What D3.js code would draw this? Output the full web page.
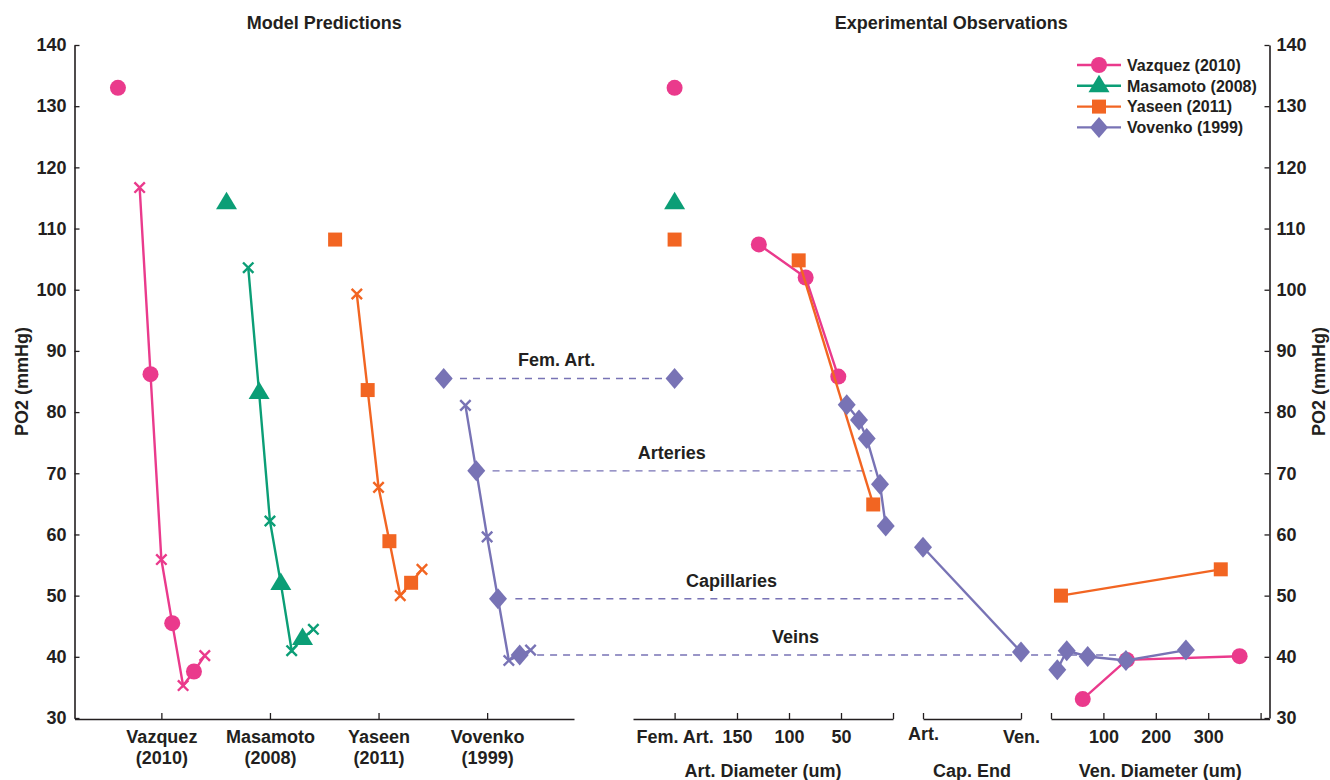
<!DOCTYPE html>
<html>
<head>
<meta charset="utf-8">
<script src="https://cdn.jsdelivr.net/npm/d3@7"></script>
<style>
  body { margin: 0; background: #fff; }
  svg text { font-family: "Liberation Sans", Arial, Helvetica, sans-serif; font-weight: bold; fill: #231f20; }
</style>
</head>
<body>
<svg id="chart" width="1330" height="780"></svg>
<script>
// studies, in drawing order
var studies = ["Vazquez (2010)", "Masamoto (2008)", "Yaseen (2011)", "Vovenko (1999)"]
var studyShort = [["Vazquez", "(2010)"], ["Masamoto", "(2008)"], ["Yaseen", "(2011)"], ["Vovenko", "(1999)"]]
var studyColors = ["#ea3a8c", "#0b9e76", "#f26522", "#7873b5"]
var studyShapes = ["circle", "triangle", "square", "diamond"]

// femoral artery PO2 (used as model inlet and as first observation)
var femArtPO2 = [133, 114.2, 108.2, 85.5]

// model predictions: positions relative to each study's category tick
var modelInletOffset = -0.4
var modelOffsets = [-0.2, -0.1, 0, 0.1, 0.2, 0.3, 0.4]
var modelPO2 = [
    [116.7, 86.2, 55.9, 45.5, 35.3, 37.6, 40.2],
    [103.6, 83.2, 62.2, 52.0, 41.0, 43.0, 44.5],
    [99.3, 83.6, 67.7, 58.9, 50.0, 52.1, 54.3],
    [81.1, 70.4, 59.6, 49.5, 39.4, 40.3, 41.1]
]

// experimental observations
var vazquezArtDiam = [129, 84, 52.6]
var vazquezArtPO2 = [107.4, 102, 85.8]
var yaseenArtDiam = [90.7, 19]
var yaseenArtPO2 = [104.8, 64.9]
var vovenkoArtDiam = [44.5, 32.7, 25.3, 12.5, 7]
var vovenkoArtPO2 = [81.2, 78.7, 75.7, 68.2, 61.4]
var vovenkoCapPos = [0, 1]
var vovenkoCapPO2 = [57.9, 40.8]
var vazquezVenDiam = [60.6, 144.7, 360]
var vazquezVenPO2 = [33.1, 39.5, 40.1]
var yaseenVenDiam = [19, 324]
var yaseenVenPO2 = [50.0, 54.3]
var vovenkoVenDiam = [12, 30, 70, 143, 257.5]
var vovenkoVenPO2 = [37.9, 41.0, 40.05, 39.4, 41.1]

// dashed guides linking the Vovenko model to its observations
var guideLabels = ["Fem. Art.", "Arteries", "Capillaries", "Veins"]
var guidePO2 = [85.5, 70.4, 49.5, 40.3]
var guideStart = [3.75, 4.05, 4.26, 4.46]          // model units
var guideEndAxis = ["art", "art", "cap", "ven"]
var guideEnd = [221, 20, 0.41, 145]
var guideLabelX = [4.64, 5.70, 6.25, 6.84]          // model units

// tick labels
var yTicks = [30, 40, 50, 60, 70, 80, 90, 100, 110, 120, 130, 140]
var artTicks = [210, 150, 100, 50, 0]
var venTicks = [0, 100, 200, 300, 400]

var svg = d3.select("#chart")
var ink = "#231f20"

var y = d3.scaleLinear().domain([30, 140]).range([718, 45])
var xModel = d3.scaleLinear().domain([0.2, 4.8]).range([74.5, 574])
var xArt = d3.scaleLinear().domain([250, 0]).range([633, 893])
var xCap = d3.scaleLinear().domain([0, 1]).range([923, 1021])
var xVen = d3.scaleLinear().domain([0, 417]).range([1051, 1269.5])
var endScales = { art: xArt, cap: xCap, ven: xVen }

var markerPath = function(shape) {
    if (shape === "circle") return d3.symbol(d3.symbolCircle, Math.PI * 64)()
    if (shape === "triangle") return "M0,-11L10.5,6.5L-10.5,6.5Z"
    if (shape === "square") return "M-7,-7H7V7H-7Z"
    if (shape === "diamond") return "M0,-10.5L9,0L0,10.5L-9,0Z"
    return "M-5.2,-5.2L5.2,5.2M-5.2,5.2L5.2,-5.2"
}

var drawMarker = function(g, shape, color, px, py) {
    var p = g.append("path")
        .attr("d", markerPath(shape))
        .attr("transform", "translate(" + px + "," + py + ")")
    if (shape === "x") {
        p.attr("fill", "none").attr("stroke", color).attr("stroke-width", 2.4)
    } else {
        p.attr("fill", color)
    }
}

var line = d3.line()

var styleAxis = function(g) {
    g.selectAll("path.domain").attr("stroke", ink).attr("stroke-width", 1.6)
    g.selectAll(".tick line").attr("stroke", ink).attr("stroke-width", 1.3)
    g.selectAll(".tick text").style("font-size", "18px").attr("fill", ink)
}

// ---- axes ----
svg.append("g").attr("transform", "translate(74.5,0)")
    .call(d3.axisLeft(y).tickValues(yTicks).tickSizeInner(-5).tickSizeOuter(0).tickPadding(8))
    .call(styleAxis)

svg.append("g").attr("transform", "translate(1269.5,0)")
    .call(d3.axisRight(y).tickValues(yTicks).tickSizeInner(-5).tickSizeOuter(0).tickPadding(7))
    .call(styleAxis)

var modelAxis = svg.append("g").attr("transform", "translate(0,719)")
    .call(d3.axisBottom(xModel).tickValues([1, 2, 3, 4]).tickSizeInner(-6).tickSizeOuter(0))
    .call(styleAxis)
modelAxis.selectAll(".tick text").each(function(d) {
    var t = d3.select(this).text(null).attr("dy", null)
    t.append("tspan").attr("x", 0).attr("y", 24).text(studyShort[d - 1][0])
    t.append("tspan").attr("x", 0).attr("y", 45).text(studyShort[d - 1][1])
})

svg.append("g").attr("transform", "translate(0,719)")
    .call(d3.axisBottom(xArt).tickValues(artTicks).tickSizeInner(-6).tickSizeOuter(0).tickPadding(11)
        .tickFormat(function(d) { return d === 210 ? "Fem. Art." : (d === 0 ? "" : d) }))
    .call(styleAxis)

var capAxis = svg.append("g").attr("transform", "translate(0,719)")
    .call(d3.axisBottom(xCap).tickValues([0, 1]).tickSizeInner(-6).tickSizeOuter(0).tickPadding(11)
        .tickFormat(function(d) { return d === 0 ? "Art." : "Ven." }))
    .call(styleAxis)
capAxis.selectAll(".tick text").attr("y", function(d) { return d === 0 ? 8 : 11 })

svg.append("g").attr("transform", "translate(0,719)")
    .call(d3.axisBottom(xVen).tickValues(venTicks).tickSizeInner(-6).tickSizeOuter(0).tickPadding(11)
        .tickFormat(function(d) { return (d === 0 || d === 400) ? "" : d }))
    .call(styleAxis)

// axis titles
var axisTitles = [
    ["Art. Diameter (um)", (xArt.range()[0] + xArt.range()[1]) / 2],
    ["Cap. End", (xCap.range()[0] + xCap.range()[1]) / 2],
    ["Ven. Diameter (um)", (xVen.range()[0] + xVen.range()[1]) / 2]
]
axisTitles.forEach(function(a) {
    svg.append("text").attr("x", a[1]).attr("y", 777).attr("text-anchor", "middle")
        .style("font-size", "18px").text(a[0])
})

svg.append("text").attr("x", (xModel.range()[0] + xModel.range()[1]) / 2).attr("y", 29)
    .attr("text-anchor", "middle").style("font-size", "18px").text("Model Predictions")
svg.append("text").attr("x", (xArt.range()[0] + xVen.range()[1]) / 2).attr("y", 29)
    .attr("text-anchor", "middle").style("font-size", "18px").text("Experimental Observations")

svg.append("text").attr("transform", "translate(28," + ((y.range()[0] + y.range()[1]) / 2) + ") rotate(-90)")
    .attr("text-anchor", "middle").style("font-size", "18px").text("PO2 (mmHg)")
svg.append("text").attr("transform", "translate(1325," + ((y.range()[0] + y.range()[1]) / 2) + ") rotate(-90)")
    .attr("text-anchor", "middle").style("font-size", "18px").text("PO2 (mmHg)")

// ---- dashed guides ----
var guides = svg.append("g")
guideLabels.forEach(function(label, i) {
    var yy = y(guidePO2[i])
    guides.append("line")
        .attr("x1", xModel(guideStart[i])).attr("x2", endScales[guideEndAxis[i]](guideEnd[i]))
        .attr("y1", yy).attr("y2", yy)
        .attr("stroke", studyColors[3]).attr("stroke-width", 1.4)
        .attr("stroke-dasharray", "7,6")
    guides.append("text").attr("x", xModel(guideLabelX[i])).attr("y", yy - 12)
        .attr("text-anchor", "middle").style("font-size", "18px").text(label)
})

// ---- model predictions ----
var marks = svg.append("g")
studies.forEach(function(s, i) {
    var c = studyColors[i]
    var center = i + 1
    var pts = modelOffsets.map(function(o, j) { return [xModel(center + o), y(modelPO2[i][j])] })
    marks.append("path").attr("d", line(pts)).attr("fill", "none")
        .attr("stroke", c).attr("stroke-width", 2.4)
    pts.forEach(function(p, j) {
        drawMarker(marks, j % 2 === 0 ? "x" : studyShapes[i], c, p[0], p[1])
    })
    drawMarker(marks, studyShapes[i], c, xModel(center + modelInletOffset), y(femArtPO2[i]))
})

// ---- experimental observations ----
var obs = [
    [0, xArt, vazquezArtDiam, vazquezArtPO2],
    [0, xVen, vazquezVenDiam, vazquezVenPO2],
    [2, xArt, yaseenArtDiam, yaseenArtPO2],
    [2, xVen, yaseenVenDiam, yaseenVenPO2],
    [3, xArt, vovenkoArtDiam, vovenkoArtPO2],
    [3, xCap, vovenkoCapPos, vovenkoCapPO2],
    [3, xVen, vovenkoVenDiam, vovenkoVenPO2]
]
obs.forEach(function(o) {
    var c = studyColors[o[0]]
    var pts = o[2].map(function(v, j) { return [o[1](v), y(o[3][j])] })
    marks.append("path").attr("d", line(pts)).attr("fill", "none")
        .attr("stroke", c).attr("stroke-width", 2.4)
    pts.forEach(function(p) { drawMarker(marks, studyShapes[o[0]], c, p[0], p[1]) })
})
femArtPO2.forEach(function(v, i) {
    drawMarker(marks, studyShapes[i], studyColors[i], xArt(210), y(v))
})

// ---- legend ----
var legend = svg.append("g").attr("transform", "translate(1077,65)")
studies.forEach(function(s, i) {
    var row = legend.append("g").attr("transform", "translate(0," + (i * 20.8) + ")")
    row.append("line").attr("x1", 0).attr("x2", 44).attr("stroke", studyColors[i]).attr("stroke-width", 2.4)
    drawMarker(row, studyShapes[i], studyColors[i], 22, 0)
    row.append("text").attr("x", 50).attr("y", 5.8).style("font-size", "16px").text(s)
})
</script>
</body>
</html>
